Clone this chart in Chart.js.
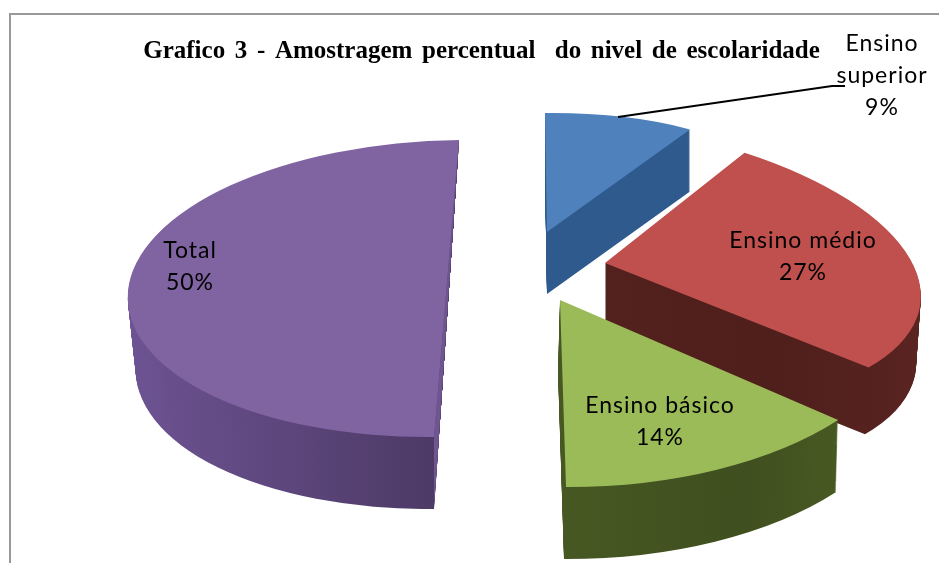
<!DOCTYPE html>
<html><head><meta charset="utf-8">
<style>html,body{margin:0;padding:0;background:#fff}canvas{display:block}</style>
<script src="https://cdn.jsdelivr.net/npm/chart.js@4"></script>
</head><body><canvas id="c" width="939" height="563"></canvas>
<script>
const categories = ["Ensino superior", "Ensino médio", "Ensino básico", "Total"];
const values = [9, 27, 14, 50];
const titleText = "Grafico 3 - Amostragem percentual  do nivel de escolaridade";
const topColors = ["#4f81bd", "#c0504d", "#9bbb59", "#8064a2"];
// perspective of every exploded slice (style only)
const views = [
  {a:[547,232], ex:[270,-4], ey:[2,119],  d:[0,62], wk:1},
  {a:[605,263], ex:[314,18], ey:[34,142], d:[0,67], wk:.985},
  {a:[560,300], ex:[356,1],  ey:[6,187],  d:[-2,72], wk:1},
  {a:[446.5,288.5], ex:[318.5,-3], ey:[-12.5,148.5], d:[0,72], wk:.975, cut:"#705691"}
];
const wallStops = [
  ["#2f5a8e","#2f5a8e","#2c5586"],
  ["#5a2320","#4f1f1c","#5a2421"],
  ["#55692a","#3f4f1f","#4e6126"],
  ["#6d5393","#5c4680","#4d3a66"]
];
const labelLines = [
  {lines:["Ensino","superior","9%"], x:882, y:44},
  {lines:["Ensino médio","27%"], x:803, y:241},
  {lines:["Ensino básico","14%"], x:660, y:406},
  {lines:["Total","50%"], x:190, y:251}
];

function setView(ctx, arc, v, t) {
  const R = arc.outerRadius, s = 1-(1-v.wk)*t;
  const a=s*v.ex[0]/R, b=s*v.ex[1]/R, c=v.ey[0]/R, d=v.ey[1]/R;
  ctx.translate(v.d[0]*t, v.d[1]*t);
  ctx.transform(a,b,c,d, v.a[0]-(a*arc.x+c*arc.y), v.a[1]-(b*arc.x+d*arc.y));
}
const pie3d = {
  id:"pie3d",
  beforeDraw(chart){
    const ctx=chart.ctx;
    ctx.save();
    ctx.strokeStyle="#999";ctx.lineWidth=2;
    ctx.beginPath();ctx.moveTo(10,563);ctx.lineTo(10,14);ctx.lineTo(939,14);ctx.stroke();
    ctx.restore();
    ctx.letterSpacing="0px";ctx.wordSpacing="3.4px";
  },
  beforeDatasetsDraw(chart){
    const ctx=chart.ctx, arcs=chart.getDatasetMeta(0).data;
    [3,0,1,2].forEach(i=>{
      const arc=arcs[i], v=views[i], R=arc.outerRadius;
      const g=ctx.createLinearGradient(arc.x-R,0,arc.x+R,0);
      const st=wallStops[i];
      if(i===3){g.addColorStop(0,st[0]);g.addColorStop(.5,st[2]);g.addColorStop(1,st[2]);}
      else{g.addColorStop(0,st[0]);g.addColorStop(.75,st[1]);g.addColorStop(1,st[2]);}
      const wall=Object.create(arc);
      wall.options=Object.assign({},arc.options,{backgroundColor:g});
      const n=Math.ceil(Math.hypot(v.d[0],v.d[1]));
      const back=[v.a[0]-v.ey[0],v.a[1]-v.ey[1]];
      const front=[v.a[0]+v.ey[0],v.a[1]+v.ey[1]];
      const foot=[front[0]+v.d[0],front[1]+v.d[1]];
      ctx.save();
      if(v.cut){
        ctx.beginPath();ctx.moveTo(back[0],back[1]);ctx.lineTo(foot[0],foot[1]);
        ctx.lineTo(0,foot[1]);ctx.lineTo(0,back[1]);ctx.closePath();ctx.clip();
      }
      for(let k=n;k>=1;k--){
        ctx.save();setView(ctx,arc,v,k/n);wall.draw(ctx);ctx.restore();
      }
      ctx.restore();
      if(v.cut){
        ctx.fillStyle=v.cut;ctx.beginPath();ctx.moveTo(back[0],back[1]);
        ctx.lineTo(foot[0],foot[1]);ctx.lineTo(front[0],front[1]);ctx.closePath();ctx.fill();
      }
      ctx.save();setView(ctx,arc,v,0);arc.draw(ctx);ctx.restore();
    });
    return false;
  },
  afterDraw(chart){
    const ctx=chart.ctx;
    ctx.save();
    ctx.strokeStyle="#000";ctx.lineWidth=1.8;
    ctx.beginPath();ctx.moveTo(618,117);ctx.lineTo(832,86);ctx.lineTo(845,86);ctx.stroke();
    ctx.font='23px Lato';ctx.letterSpacing="1px";ctx.wordSpacing="0px";ctx.fillStyle="#000";
    ctx.textAlign="center";ctx.textBaseline="middle";
    labelLines.forEach(l=>l.lines.forEach((s,j)=>ctx.fillText(s,l.x,l.y+j*32)));
    ctx.restore();
  }
};
new Chart(document.getElementById("c"),{
  type:"pie",
  data:{labels:categories,datasets:[{data:values,backgroundColor:topColors,borderWidth:0}]},
  plugins:[pie3d],
  options:{
    responsive:false,animation:false,
    layout:{padding:{left:24}},
    plugins:{
      legend:{display:false},tooltip:{enabled:false},
      title:{display:true,text:titleText,color:"#000",fullSize:false,
        font:{family:"'Liberation Serif'",size:25,weight:"bold"},
        padding:{top:37,bottom:10}}
    }
  }
});
</script></body></html>
